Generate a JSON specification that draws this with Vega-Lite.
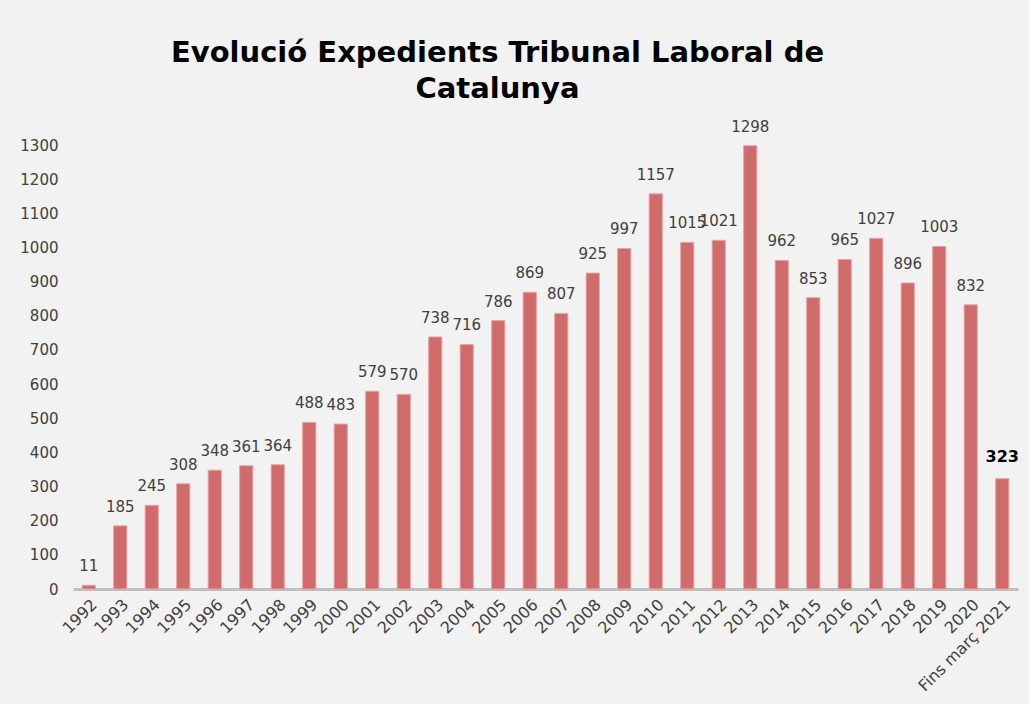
{
  "$schema": "https://vega.github.io/schema/vega-lite/v6.json",
  "autosize": "none",
  "width": 945,
  "height": 444,
  "padding": {"left": 73, "top": 145, "right": 11, "bottom": 115},
  "background": "#f2f2f2",
  "title": {
    "text": ["Evolució Expedients Tribunal Laboral de", "Catalunya"],
    "font": "DejaVu Sans",
    "fontSize": 29,
    "fontWeight": "bold",
    "color": "#000000",
    "lineHeight": 36,
    "anchor": "middle",
    "dx": -48,
    "offset": 16
  },
  "config": {
    "view": {"stroke": null},
    "font": "DejaVu Sans"
  },
  "data": {
    "values": [
      {"year": "1992", "n": 11, "last": false},
      {"year": "1993", "n": 185, "last": false},
      {"year": "1994", "n": 245, "last": false},
      {"year": "1995", "n": 308, "last": false},
      {"year": "1996", "n": 348, "last": false},
      {"year": "1997", "n": 361, "last": false},
      {"year": "1998", "n": 364, "last": false},
      {"year": "1999", "n": 488, "last": false},
      {"year": "2000", "n": 483, "last": false},
      {"year": "2001", "n": 579, "last": false},
      {"year": "2002", "n": 570, "last": false},
      {"year": "2003", "n": 738, "last": false},
      {"year": "2004", "n": 716, "last": false},
      {"year": "2005", "n": 786, "last": false},
      {"year": "2006", "n": 869, "last": false},
      {"year": "2007", "n": 807, "last": false},
      {"year": "2008", "n": 925, "last": false},
      {"year": "2009", "n": 997, "last": false},
      {"year": "2010", "n": 1157, "last": false},
      {"year": "2011", "n": 1015, "last": false},
      {"year": "2012", "n": 1021, "last": false},
      {"year": "2013", "n": 1298, "last": false},
      {"year": "2014", "n": 962, "last": false},
      {"year": "2015", "n": 853, "last": false},
      {"year": "2016", "n": 965, "last": false},
      {"year": "2017", "n": 1027, "last": false},
      {"year": "2018", "n": 896, "last": false},
      {"year": "2019", "n": 1003, "last": false},
      {"year": "2020", "n": 832, "last": false},
      {"year": "Fins març 2021", "n": 323, "last": true}
    ]
  },
  "encoding": {
    "x": {
      "field": "year",
      "type": "nominal",
      "sort": null,
      "scale": {"paddingInner": 0.58, "paddingOuter": 0.29},
      "axis": {
        "title": null,
        "labelAngle": -45,
        "labelFontSize": 16,
        "labelColor": "#404040",
        "labelPadding": 7,
        "ticks": false,
        "domainColor": "#bfbfbf",
        "domainWidth": 3
      }
    },
    "y": {
      "field": "n",
      "type": "quantitative",
      "scale": {"domain": [0, 1300], "nice": false},
      "axis": {
        "title": null,
        "format": "d",
        "values": [0, 100, 200, 300, 400, 500, 600, 700, 800, 900, 1000, 1100, 1200, 1300],
        "grid": false,
        "domain": false,
        "ticks": false,
        "labelFontSize": 15,
        "labelColor": "#404040",
        "labelPadding": 15
      }
    }
  },
  "layer": [
    {
      "mark": {"type": "bar", "color": "#d06b6b", "stroke": "#eaa5a5", "strokeWidth": 1}
    },
    {
      "transform": [{"filter": "!datum.last"}],
      "mark": {"type": "text", "baseline": "bottom", "dy": -11, "fontSize": 15, "color": "#404040"},
      "encoding": {"text": {"field": "n", "type": "quantitative", "format": "d"}}
    },
    {
      "transform": [{"filter": "datum.last"}],
      "mark": {"type": "text", "baseline": "bottom", "dy": -14, "fontSize": 16, "fontWeight": "bold", "color": "#000000"},
      "encoding": {"text": {"field": "n", "type": "quantitative", "format": "d"}}
    }
  ]
}
